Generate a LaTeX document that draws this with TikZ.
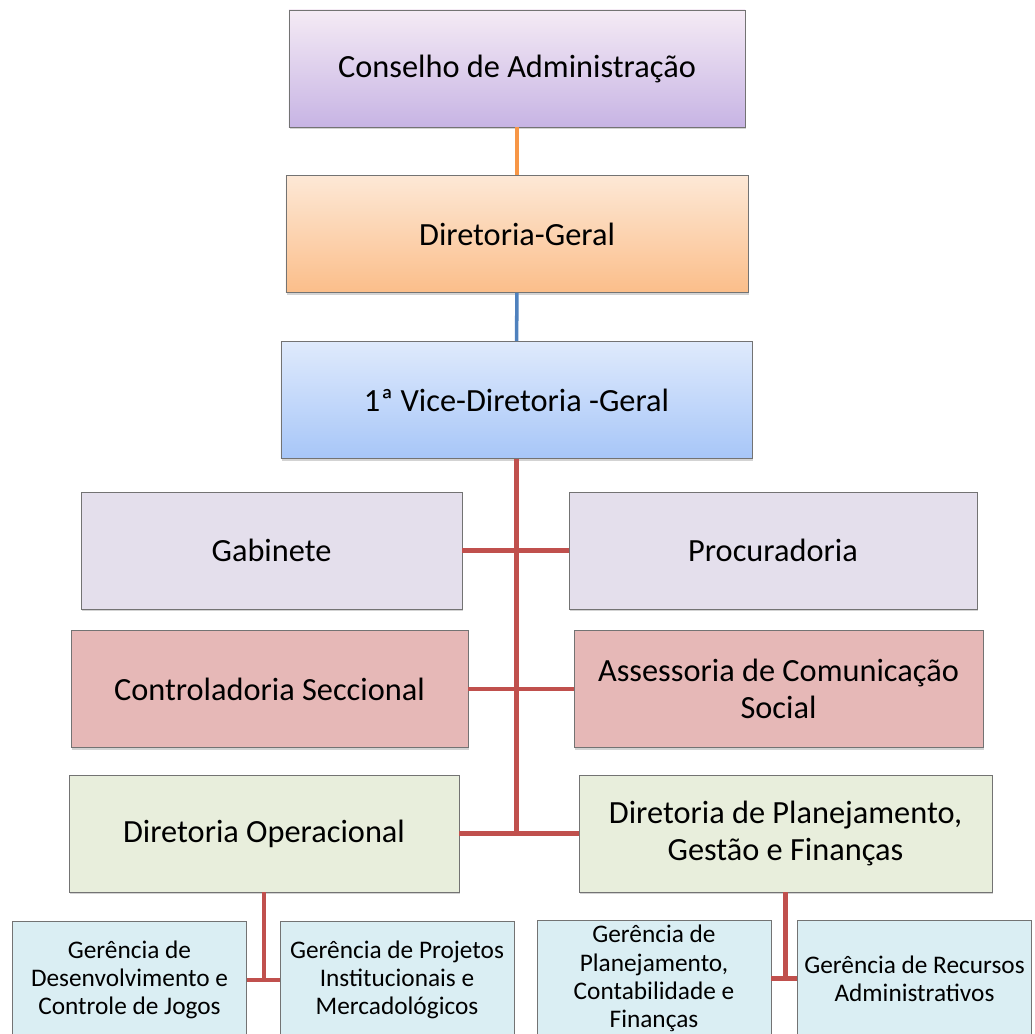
\documentclass[tikz,border=0pt]{standalone}
\usepackage{fontspec}
\setmainfont{Carlito}
\usetikzlibrary{positioning, shadows}

\definecolor{linkred}{HTML}{C0504D}
\definecolor{linkorange}{HTML}{F79646}
\definecolor{linkblue}{HTML}{4F81BD}
\definecolor{lilac}{HTML}{E4DFEC}
\definecolor{rose}{HTML}{E6B8B7}
\definecolor{sage}{HTML}{E8EEDC}
\definecolor{ice}{HTML}{DAEEF3}

\begin{document}
\begin{tikzpicture}[x=0.025cm, y=-0.025cm,
    orgbox/.style={draw=black!55, line width=0.6pt, rectangle, align=center,
      font=\fontsize{23}{26.5}\selectfont, minimum height=2.925cm,
      drop shadow={shadow xshift=0.6pt, shadow yshift=-1.6pt, opacity=0.35}},
    subbox/.style={orgbox, font=\fontsize{18}{20}\selectfont, minimum width=5.85cm},
    link/.style={line width=3pt, linkred}]
    \useasboundingbox (0,0) rectangle (1035,1034);

    % top of the chart
    \node[orgbox, minimum width=11.4cm, top color=violet!8!white, bottom color={rgb,255:red,199;green,180;blue,228}] (cons) at (517,68.5) {Conselho de Administração};
    \node[orgbox, minimum width=11.55cm, top color={rgb,255:red,253;green,232;blue,214}, bottom color={rgb,255:red,251;green,190;blue,138}] (dg) at (517,234) {Diretoria-Geral};
    \node[orgbox, minimum width=11.775cm, top color={rgb,255:red,223;green,234;blue,252}, bottom color={rgb,255:red,167;green,198;blue,248}] (vice) at (516.5,400) {1ª Vice-Diretoria -Geral};

    % units under the vice-direction
    \node[orgbox, minimum width=9.525cm, fill=lilac] (gab) at (271.5,550.5) {Gabinete};
    \node[orgbox, minimum width=10.2cm, fill=lilac] (proc) at (773,550.5) {Procuradoria};
    \node[orgbox, minimum width=9.925cm, fill=rose] (ctrl) at (269.5,689) {Controladoria Seccional};
    \node[orgbox, minimum width=10.225cm, fill=rose] (asc) at (778.5,689) {Assessoria de Comunicação\\Social};
    \node[orgbox, minimum width=9.75cm, fill=sage] (dop) at (264,833.5) {Diretoria Operacional};
    \node[orgbox, minimum width=10.325cm, fill=sage] (dpg) at (785.5,833.5) {Diretoria de Planejamento,\\Gestão e Finanças};

    % managements
    \node[subbox, fill=ice] (gdc) at (129.5,980) {Gerência de\\Desenvolvimento e\\Controle de Jogos};
    \node[subbox, fill=ice] (gpi) at (397,980) {Gerência de Projetos\\Institucionais e\\Mercadológicos};
    \node[subbox, fill=ice] (gpc) at (654,978.5) {Gerência de\\Planejamento,\\Contabilidade e\\Finanças};
    \node[subbox, fill=ice] (gra) at (914.5,978.5) {Gerência de Recursos\\Administrativos};

    \coordinate (jn) at (vice.south |- dop.east);
    \coordinate (jl) at (dop.south |- gdc.east);
    \coordinate (jr) at (dpg.south |- gpc.east);

    \draw[line width=2.5pt, linkorange] (cons) -- (dg);
    \draw[line width=2.5pt, linkblue] (dg) -- (vice);
    \draw[link] (vice.south) -- (jn);
    \draw[link] (gab.east) -- (proc.west);
    \draw[link] (ctrl.east) -- (asc.west);
    \draw[link] (dop.east) -- (dpg.west);
    \draw[link] (dop.south) -- (jl);
    \draw[link] (gdc.east) -- (gpi.west);
    \draw[link] (dpg.south) -- (jr);
    \draw[link] (gpc.east) -- (gra.west);
\end{tikzpicture}
\end{document}
